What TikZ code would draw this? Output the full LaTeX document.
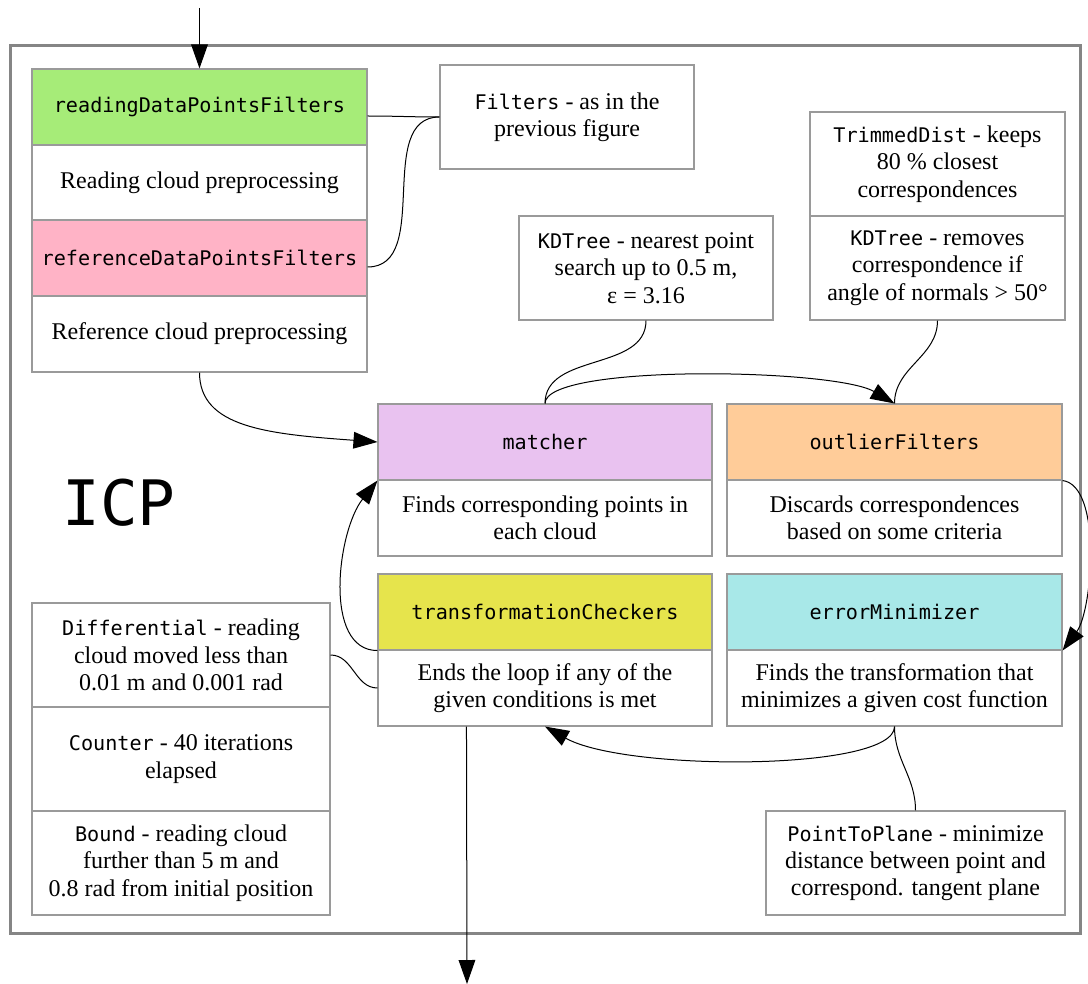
\documentclass[tikz,border=0pt]{standalone}
\usepackage{fontspec}
\setmainfont{Liberation Serif}
\setmonofont{DejaVu Sans Mono}[Scale=0.84]
\newfontfamily\icpfont{DejaVu Sans Mono}
\usetikzlibrary{arrows.meta,calc}
\newcommand{\boxfont}{\fontsize{18pt}{20.5pt}\selectfont}
\definecolor{boxgray}{HTML}{9A9A9A}
\definecolor{framegray}{HTML}{858585}
\definecolor{hgreen}{HTML}{A6EC78}
\definecolor{hpink}{HTML}{FFB3C6}
\definecolor{hpurple}{HTML}{E9C2F0}
\definecolor{horange}{HTML}{FFCC99}
\definecolor{hyellow}{HTML}{E6E44C}
\definecolor{hcyan}{HTML}{A8E8E8}
\tikzset{
  box/.style={draw=boxgray, line width=0.8pt, fill=white, inner sep=0pt,
    align=center, font=\boxfont},
  wh/.style 2 args={minimum width={#1*0.75pt}, minimum height={#2*0.75pt}},
  link/.style={draw=black, line width=0.75pt},
  flow/.style={link, -{Triangle[length=18pt,width=12.5pt]}},
}
\begin{document}
\begin{tikzpicture}[x=0.75pt,y=-0.75pt]
\useasboundingbox (0,0) rectangle (1088,984);

% outer ICP frame
\draw[framegray, line width=2.25pt] (10,46) rectangle (1080,933);
\node[font=\icpfont\fontsize{47pt}{50pt}\selectfont, inner sep=0pt] (icp) at (119,503) {ICP};

% data point filters
\node[box, wh={335}{76}, fill=hgreen] (rdH) at (199.5,107) {\texttt{readingDataPointsFilters}};
\node[box, wh={335}{75}] (rdB) at (199.5,182.5) {Reading cloud preprocessing};
\node[box, wh={335}{76}, fill=hpink] (refH) at (199.5,258) {\texttt{referenceDataPointsFilters}};
\node[box, wh={335}{76}] (refB) at (199.5,334) {Reference cloud preprocessing};

% annotation boxes
\node[box, wh={254}{104}] (filt) at (567,117) {\texttt{Filters} - as in the\\previous figure};
\node[box, wh={254}{104}] (kdm) at (646,268) {\texttt{KDTree} - nearest point\\search up to 0.5 m,\\ε = 3.16};
\node[box, wh={255}{104}] (trim) at (937.5,164) {\texttt{TrimmedDist} - keeps\\80 \% closest\\correspondences};
\node[box, wh={255}{104}] (kdo) at (937.5,268) {\texttt{KDTree} - removes\\correspondence if\\angle of normals > 50°};

% ICP loop modules
\node[box, wh={334}{76}, fill=hpurple] (matH) at (545,442) {\texttt{matcher}};
\node[box, wh={334}{76}] (matB) at (545,518) {Finds corresponding points in\\each cloud};
\node[box, wh={335}{76}, fill=horange] (outH) at (894.5,442) {\texttt{outlierFilters}};
\node[box, wh={335}{76}] (outB) at (894.5,518) {Discards correspondences\\based on some criteria};
\node[box, wh={334}{76}, fill=hyellow] (tcH) at (545,612) {\texttt{transformationCheckers}};
\node[box, wh={334}{76}] (tcB) at (545,688) {Ends the loop if any of the\\given conditions is met};
\node[box, wh={335}{76}, fill=hcyan] (emH) at (894.5,612) {\texttt{errorMinimizer}};
\node[box, wh={335}{76}] (emB) at (894.5,688) {Finds the transformation that\\minimizes a given cost function};

% checker conditions
\node[box, wh={298}{104}] (diff) at (181,655) {\texttt{Differential} - reading\\cloud moved less than\\0.01 m and 0.001 rad};
\node[box, wh={298}{104}] (cnt) at (181,759) {\texttt{Counter} - 40 iterations\\elapsed};
\node[box, wh={298}{104}] (bnd) at (181,863) {\texttt{Bound} - reading cloud\\further than 5 m and\\0.8 rad from initial position};
\node[box, wh={299}{104}] (p2p) at (915.5,863) {\texttt{PointToPlane} - minimize\\distance between point and\\correspond. tangent plane};

% entry and exit
\coordinate (in) at (199.5,8);
\coordinate (tcout) at ($(tcB.south west)+(66.75pt,0)$);
\coordinate (out) at (467,984);
\draw[flow] (in) -- (rdH.north);
\draw[flow] (tcout) -- (out);

% connectors
\draw[link] ([yshift=-6.75pt]rdH.east) to[out=0,in=180] (filt.west);
\draw[link] ([yshift=-6.75pt]refH.east) to[out=0,in=180] (filt.west);
\draw[flow] (refB.south) .. controls +(0,55) and +(-110,-8) .. (matH.west);
\draw[link] (kdm.south) to[out=-90,in=90] (matH.north);
\draw[flow] (matH.north) .. controls +(0,-40) and +(-60,-35) .. (outH.north);
\draw[link] (kdo.south) to[out=-90,in=90] (outH.north);
\draw[flow] (outH.south east) .. controls +(40,5) and +(30,-40) .. (emH.south east);
\draw[link] (p2p.north) to[out=90,in=-90] (emB.south);
\draw[flow] (emB.south) .. controls +(0,45) and +(80,45) .. (tcB.south);
\draw[flow] (tcH.south west) .. controls +(-55,0) and +(-40,50) .. (matH.south west);
\draw[link] (diff.east) to[out=0,in=180] (tcB.west);
\end{tikzpicture}
\end{document}
